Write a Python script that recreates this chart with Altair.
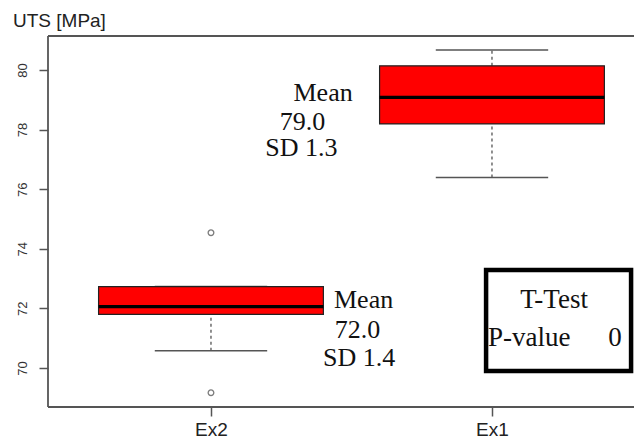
import altair as alt
import pandas as pd

# ---- data ----
categories = ["Ex2", "Ex1"]
q1 = [71.80, 78.19]
median = [72.06, 79.08]
q3 = [72.73, 80.14]
whisker_low = [70.58, 76.39]
whisker_high = [72.73, 80.67]
outlier_group = ["Ex2", "Ex2"]
outlier_values = [74.54, 69.17]
mean_values = [72.0, 79.0]
sd_values = [1.4, 1.3]
p_value = 0
y_ticks = [70, 72, 74, 76, 78, 80]

# ---- layout constants ----
W, H = 586, 371
XDOM = [0.42, 2.5054]
YDOM = [68.69, 81.14]
GRAY = "#555555"
SERIF = "Liberation Serif"
SANS = "Liberation Sans"

pos = {c: i + 1 for i, c in enumerate(categories)}
boxes = pd.DataFrame({
    "cat": categories,
    "pos": [pos[c] for c in categories],
    "q1": q1, "median": median, "q3": q3,
    "wlo": whisker_low, "whi": whisker_high,
})
boxes["left"] = boxes["pos"] - 0.4
boxes["right"] = boxes["pos"] + 0.4
boxes["capl"] = boxes["pos"] - 0.2
boxes["capr"] = boxes["pos"] + 0.2

segs = pd.concat([
    pd.DataFrame({"pos": boxes["pos"], "a": boxes["wlo"], "b": boxes["q1"]}),
    pd.DataFrame({"pos": boxes["pos"], "a": boxes["q3"], "b": boxes["whi"]}),
])
caps = pd.concat([
    pd.DataFrame({"l": boxes["capl"], "r": boxes["capr"], "y": boxes["wlo"]}),
    pd.DataFrame({"l": boxes["capl"], "r": boxes["capr"], "y": boxes["whi"]}),
])
outs = pd.DataFrame({"pos": [pos[g] for g in outlier_group], "v": outlier_values})

label_expr = " : ".join(
    [f"datum.value == {pos[c]} ? '{c}'" for c in categories]) + " : ''"

xs = alt.Scale(domain=XDOM, nice=False, zero=False)
ys = alt.Scale(domain=YDOM, nice=False, zero=False)

x_axis = alt.Axis(values=[pos[c] for c in categories], labelExpr=label_expr,
                  title=None, grid=False, domain=False, tickColor=GRAY,
                  tickSize=9, tickWidth=1.5, labelFont=SANS, labelFontSize=19,
                  labelColor="#222", labelBaseline="alphabetic", labelPadding=19)
y_axis = alt.Axis(values=y_ticks, title=None, grid=False, domain=False,
                  tickColor=GRAY, tickSize=9, tickWidth=1.5, labelFont=SANS,
                  labelFontSize=13, labelColor="#333", labelAngle=270,
                  labelAlign="center", labelBaseline="alphabetic", labelPadding=13)

whiskers = alt.Chart(segs).mark_rule(color=GRAY, strokeWidth=1.3, strokeDash=[3, 3]).encode(
    x=alt.X("pos:Q", scale=xs, axis=x_axis),
    y=alt.Y("a:Q", scale=ys, axis=y_axis),
    y2="b:Q",
)
capmarks = alt.Chart(caps).mark_rule(color=GRAY, strokeWidth=1.6).encode(
    x=alt.X("l:Q", scale=xs), x2="r:Q", y=alt.Y("y:Q", scale=ys))
boxmarks = alt.Chart(boxes).mark_rect(fill="#FF0000", stroke="#222", strokeWidth=1.2).encode(
    x=alt.X("left:Q", scale=xs), x2="right:Q",
    y=alt.Y("q1:Q", scale=ys), y2="q3:Q")
medians = alt.Chart(boxes).mark_rule(color="#000", strokeWidth=3.2).encode(
    x=alt.X("left:Q", scale=xs), x2="right:Q", y=alt.Y("median:Q", scale=ys))
outmarks = alt.Chart(outs).mark_point(shape="circle", filled=False, size=32,
                                      color="#444", strokeWidth=1.3).encode(
    x=alt.X("pos:Q", scale=xs), y=alt.Y("v:Q", scale=ys))

# annotation texts (Mean / value / SD) per group
ann_x = {"Ex1": [1.399, 1.326, 1.322], "Ex2": [1.543, 1.521, 1.527]}
ann_y = {"Ex1": [79.23, 78.26, 77.38], "Ex2": [72.28, 71.28, 70.34]}
rows = []
for i, c in enumerate(categories):
    texts = ["Mean", f"{mean_values[i]:.1f}", f"SD {sd_values[i]:.1f}"]
    for t, xv, yv in zip(texts, ann_x[c], ann_y[c]):
        rows.append({"t": t, "x": xv, "y": yv})
ann = alt.Chart(pd.DataFrame(rows)).mark_text(font=SERIF, fontSize=26, color="#111",
                                              align="center", baseline="middle").encode(
    x=alt.X("x:Q", scale=xs), y=alt.Y("y:Q", scale=ys), text="t:N")

# T-Test box
tbox = alt.Chart(pd.DataFrame([{"x": 1.979, "x2": 2.495, "y": 69.90, "y2": 73.29}])).mark_rect(
    fill="white", stroke="#000", strokeWidth=4.5).encode(
    x=alt.X("x:Q", scale=xs), x2="x2:Q", y=alt.Y("y:Q", scale=ys), y2="y2:Q")
ttext = alt.Chart(pd.DataFrame([{"t": "T-Test", "x": 2.221, "y": 72.28}])).mark_text(
    font=SERIF, fontSize=27, color="#111", align="center", baseline="middle").encode(
    x=alt.X("x:Q", scale=xs), y=alt.Y("y:Q", scale=ys), text="t:N")
ptext = alt.Chart(pd.DataFrame([{"t": "P-value", "x": 1.986, "y": 71.01}])).mark_text(
    font=SERIF, fontSize=27, color="#111", align="left", baseline="middle").encode(
    x=alt.X("x:Q", scale=xs), y=alt.Y("y:Q", scale=ys), text="t:N")
pval = alt.Chart(pd.DataFrame([{"t": str(p_value), "x": 2.438, "y": 71.01}])).mark_text(
    font=SERIF, fontSize=27, color="#111", align="center", baseline="middle").encode(
    x=alt.X("x:Q", scale=xs), y=alt.Y("y:Q", scale=ys), text="t:N")

# frame (left, top, bottom; right side falls outside the picture)
one = alt.Data(values=[{}])
frame_left = alt.Chart(one).mark_rule(color=GRAY, strokeWidth=1.8).encode(
    x=alt.value(0), y=alt.value(0), y2=alt.value(H))
frame_top = alt.Chart(one).mark_rule(color=GRAY, strokeWidth=1.8).encode(
    x=alt.value(0), x2=alt.value(W), y=alt.value(0))
frame_bottom = alt.Chart(one).mark_rule(color=GRAY, strokeWidth=1.8).encode(
    x=alt.value(0), x2=alt.value(W), y=alt.value(H))
title = alt.Chart(one).mark_text(font=SANS, fontSize=19, color="#222", align="left",
                                 baseline="alphabetic").encode(
    x=alt.value(-35), y=alt.value(-9), text=alt.value("UTS [MPa]"))

chart = alt.layer(
    whiskers, capmarks, boxmarks, medians, outmarks, ann, tbox, ttext, ptext, pval,
    frame_left, frame_top, frame_bottom, title,
).properties(
    width=W, height=H,
    autosize=alt.AutoSizeParams(type="none"),
    padding={"left": 40, "top": 28, "right": 0, "bottom": 32},
    background="white",
).configure_view(stroke=None)

chart.save("out.html", embed_options={"renderer": "svg", "actions": False})
